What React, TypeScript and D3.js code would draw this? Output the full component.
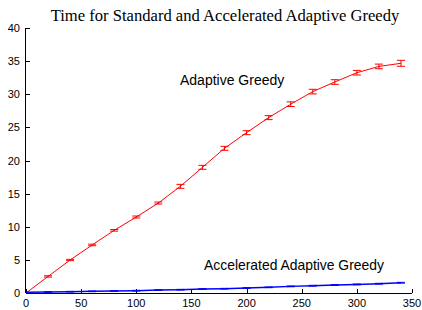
import React from "react";
import * as d3 from "d3";

const xs = [0, 20, 40, 60, 80, 100, 120, 140, 160, 180, 200, 220, 240, 260, 280, 300, 320, 340];
const stdTime = [0, 2.5, 4.98, 7.25, 9.46, 11.47, 13.58, 16.1, 18.97, 21.84, 24.2, 26.47, 28.5, 30.4, 31.85, 33.25, 34.2, 34.67];
const stdErr = [0, 0.1, 0.1, 0.12, 0.12, 0.15, 0.15, 0.3, 0.3, 0.3, 0.3, 0.3, 0.35, 0.35, 0.35, 0.35, 0.35, 0.45];
const accTime = [0.1, 0.15, 0.2, 0.25, 0.3, 0.35, 0.45, 0.5, 0.6, 0.65, 0.75, 0.85, 1.0, 1.1, 1.2, 1.3, 1.4, 1.55];
const accErr = [0, 0.05, 0.05, 0.05, 0.05, 0.05, 0.05, 0.05, 0.05, 0.05, 0.05, 0.05, 0.06, 0.06, 0.06, 0.06, 0.06, 0.06];
const xTicks = [0, 50, 100, 150, 200, 250, 300, 350];
const yTicks = [0, 5, 10, 15, 20, 25, 30, 35, 40];

export default function App() {
  const W = 422, H = 310;
  const x = d3.scaleLinear().domain([0, 350]).range([26, 412]);
  const y = d3.scaleLinear().domain([0, 40]).range([293, 28]);
  const line = d3.line<number>().x((_, i) => x(xs[i])).y((d) => y(d));
  const font = "'Liberation Sans', Arial, Helvetica, sans-serif";
  const bars = (vals: number[], errs: number[], color: string, key: string) =>
    vals.map((v, i) => {
      if (errs[i] <= 0) return null;
      const cx = x(xs[i]);
      const y1 = y(v + errs[i]), y2 = y(v - errs[i]);
      return (
        <g key={key + i} stroke={color} strokeWidth={1}>
          <line x1={cx} x2={cx} y1={y1} y2={y2} />
          <line x1={cx - 4} x2={cx + 4} y1={y1} y2={y1} />
          <line x1={cx - 4} x2={cx + 4} y1={y2} y2={y2} />
        </g>
      );
    });
  return (
    <svg width={W} height={H} style={{ position: "absolute", left: 0, top: 0, background: "#fff" }}>
      <rect width={W} height={H} fill="#fff" />
      <text x={225} y={21} textAnchor="middle" fontFamily="'Liberation Serif', 'Times New Roman', serif" fontSize={16.6} fill="#000">
        Time for Standard and Accelerated Adaptive Greedy
      </text>
      <line x1={x(0)} x2={x(350)} y1={y(0) + 0.5} y2={y(0) + 0.5} stroke="#000" />
      <line x1={x(0) - 0.5} x2={x(0) - 0.5} y1={y(0)} y2={y(40)} stroke="#000" />
      {xTicks.map((t) => (
        <g key={"xt" + t}>
          <line x1={Math.round(x(t)) + 0.5} x2={Math.round(x(t)) + 0.5} y1={y(0)} y2={y(0) - 4} stroke="#000" />
          <text x={x(t)} y={307} textAnchor="middle" fontFamily={font} fontSize={11} fill="#000">{t}</text>
        </g>
      ))}
      {yTicks.map((t) => (
        <g key={"yt" + t}>
          <line x1={x(0)} x2={x(0) + 4} y1={Math.round(y(t)) + 0.5} y2={Math.round(y(t)) + 0.5} stroke="#000" />
          <text x={20} y={y(t) + 4} textAnchor="end" fontFamily={font} fontSize={11} fill="#000">{t}</text>
        </g>
      ))}
      <path d={line(stdTime) || ""} fill="none" stroke="#ff0000" strokeWidth={1} />
      {bars(stdTime, stdErr, "#ff0000", "s")}
      <path d={line(accTime) || ""} fill="none" stroke="#0000ff" strokeWidth={1.5} />
      {bars(accTime, accErr, "#0000ff", "a")}
      <text x={180} y={85} fontFamily={font} fontSize={14} fill="#000">Adaptive Greedy</text>
      <text x={204} y={270} fontFamily={font} fontSize={13.9} fill="#000">Accelerated Adaptive Greedy</text>
    </svg>
  );
}
